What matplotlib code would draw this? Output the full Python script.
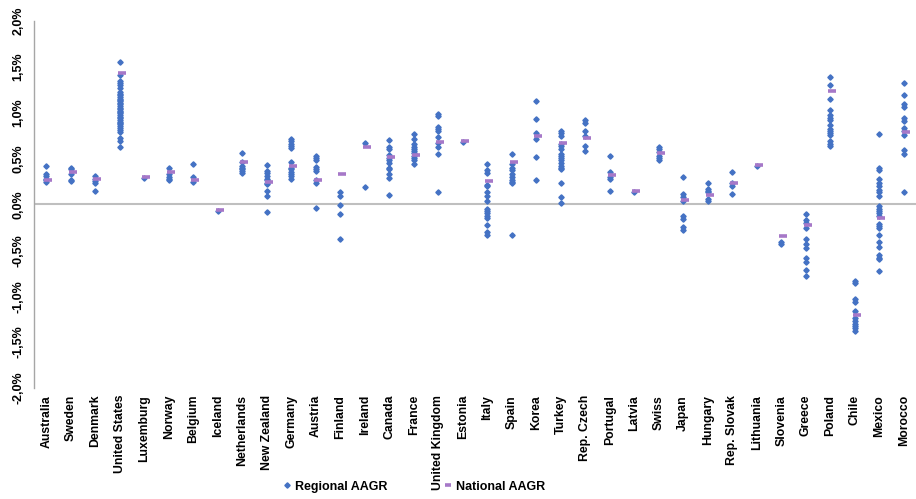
import matplotlib
matplotlib.use("Agg")
import matplotlib.pyplot as plt
from matplotlib.lines import Line2D
from matplotlib import transforms

plt.rcParams['font.family'] = ['Liberation Sans', 'DejaVu Sans']

countries = ["Australia", "Sweden", "Denmark", "United States", "Luxemburg", "Norway",
             "Belgium", "Iceland", "Netherlands", "New Zealand", "Germany", "Austria",
             "Finland", "Ireland", "Canada", "France", "United Kingdom", "Estonia",
             "Italy", "Spain", "Korea", "Turkey", "Rep. Czech", "Portugal", "Latvia",
             "Swiss", "Japan", "Hungary", "Rep. Slovak", "Lithuania", "Slovenia",
             "Greece", "Poland", "Chile", "Mexico", "Morocco"]

# Regional AAGR (%) per country
reg_australia = [0.42, 0.33, 0.31, 0.28, 0.26, 0.24]
reg_sweden = [0.40, 0.38, 0.33, 0.27, 0.25]
reg_denmark = [0.31, 0.28, 0.25, 0.23, 0.15]
reg_us = [1.55, 1.41, 1.34, 1.32, 1.30, 1.27, 1.22, 1.20, 1.19, 1.17, 1.15, 1.14,
          1.12, 1.10, 1.09, 1.07, 1.05, 1.04, 1.02, 1.00, 0.99, 0.97, 0.95, 0.94,
          0.92, 0.90, 0.89, 0.87, 0.85, 0.83, 0.81, 0.79, 0.72, 0.69, 0.62]
reg_luxemburg = [0.29]
reg_norway = [0.40, 0.33, 0.30, 0.28, 0.26]
reg_belgium = [0.44, 0.30, 0.24]
reg_iceland = [-0.07]
reg_netherlands = [0.56, 0.46, 0.42, 0.40, 0.38, 0.36, 0.34]
reg_newzealand = [0.43, 0.36, 0.34, 0.31, 0.28, 0.26, 0.23, 0.22, 0.15, 0.09, -0.08]
reg_germany = [0.71, 0.69, 0.66, 0.64, 0.61, 0.46, 0.40, 0.38, 0.35, 0.33, 0.31, 0.28]
reg_austria = [0.53, 0.50, 0.48, 0.41, 0.38, 0.36, 0.26, 0.23, -0.04]
reg_finland = [0.13, 0.09, -0.01, -0.11, -0.38]
reg_ireland = [0.67, 0.19]
reg_canada = [0.70, 0.62, 0.60, 0.54, 0.50, 0.48, 0.45, 0.40, 0.38, 0.33, 0.29, 0.10]
reg_france = [0.76, 0.71, 0.66, 0.62, 0.60, 0.58, 0.56, 0.53, 0.50, 0.48, 0.44]
reg_uk = [0.98, 0.96, 0.84, 0.82, 0.80, 0.73, 0.67, 0.62, 0.55, 0.13]
reg_estonia = [0.68]
reg_italy = [0.44, 0.37, 0.34, 0.21, 0.20, 0.13, 0.09, 0.04, -0.05, -0.07, -0.10,
             -0.13, -0.15, -0.22, -0.30, -0.33]
reg_spain = [0.55, 0.44, 0.39, 0.37, 0.33, 0.30, 0.27, 0.24, 0.23, -0.33]
reg_korea = [1.13, 0.93, 0.78, 0.71, 0.52, 0.27]
reg_turkey = [0.80, 0.78, 0.74, 0.66, 0.63, 0.60, 0.55, 0.53, 0.50, 0.48, 0.45,
              0.42, 0.40, 0.38, 0.23, 0.08, 0.01]
reg_czech = [0.92, 0.88, 0.80, 0.74, 0.64, 0.58]
reg_portugal = [0.53, 0.35, 0.30, 0.28, 0.15]
reg_latvia = [0.13]
reg_swiss = [0.62, 0.60, 0.57, 0.53, 0.50, 0.48]
reg_japan = [0.30, 0.11, 0.08, 0.04, -0.13, -0.16, -0.25, -0.28]
reg_hungary = [0.23, 0.17, 0.15, 0.13, 0.06, 0.04]
reg_slovak = [0.35, 0.23, 0.20, 0.11]
reg_lithuania = [0.42]
reg_slovenia = [-0.41, -0.43]
reg_greece = [-0.11, -0.17, -0.20, -0.26, -0.38, -0.43, -0.48, -0.59, -0.63, -0.72, -0.78]
reg_poland = [1.39, 1.30, 1.15, 1.03, 0.97, 0.94, 0.92, 0.86, 0.82, 0.80, 0.78,
              0.75, 0.69, 0.66, 0.64]
reg_chile = [-0.83, -0.86, -1.03, -1.06, -1.16, -1.24, -1.27, -1.30, -1.32, -1.35, -1.38]
reg_mexico = [0.77, 0.40, 0.37, 0.28, 0.23, 0.20, 0.16, 0.13, 0.09, -0.02, -0.05,
              -0.07, -0.10, -0.13, -0.21, -0.24, -0.26, -0.33, -0.41, -0.46, -0.55,
              -0.58, -0.60, -0.73]
reg_morocco = [1.32, 1.19, 1.09, 1.06, 0.94, 0.91, 0.83, 0.80, 0.75, 0.59, 0.55, 0.13]

regional = [reg_australia, reg_sweden, reg_denmark, reg_us, reg_luxemburg, reg_norway,
            reg_belgium, reg_iceland, reg_netherlands, reg_newzealand, reg_germany,
            reg_austria, reg_finland, reg_ireland, reg_canada, reg_france, reg_uk,
            reg_estonia, reg_italy, reg_spain, reg_korea, reg_turkey, reg_czech,
            reg_portugal, reg_latvia, reg_swiss, reg_japan, reg_hungary, reg_slovak,
            reg_lithuania, reg_slovenia, reg_greece, reg_poland, reg_chile,
            reg_mexico, reg_morocco]

# National AAGR (%)
national = [0.26, 0.35, 0.28, 1.43, 0.30, 0.35, 0.27, -0.06, 0.46, 0.24, 0.42, 0.27,
            0.33, 0.62, 0.52, 0.54, 0.68, 0.69, 0.25, 0.46, 0.74, 0.67, 0.72, 0.32,
            0.14, 0.56, 0.05, 0.10, 0.23, 0.43, -0.35, -0.22, 1.23, -1.21, -0.15, 0.79]

y_ticks = [-2.0, -1.5, -1.0, -0.5, 0.0, 0.5, 1.0, 1.5, 2.0]
y_labels = ["-2,0%", "-1,5%", "-1,0%", "-0,5%", "0,0%", "0,5%", "1,0%", "1,5%", "2,0%"]

reg_color = "#4472C4"
nat_color = "#A678C8"

fig = plt.figure(figsize=(9.16, 4.99), dpi=100)
ax = fig.add_axes([34 / 916, 1 - 388 / 499, 1 - 34 / 916, (388 - 20.6) / 499])

for i, vals in enumerate(regional):
    ax.plot([i] * len(vals), vals, linestyle="none", marker="D", markersize=2.7,
            color=reg_color, zorder=3)

nat_tr = transforms.offset_copy(ax.transData, fig=fig, x=2, y=0, units="dots")
ax.plot(range(len(countries)), national, linestyle="none", marker="_", markersize=6,
        markeredgewidth=2.6, color=nat_color, transform=nat_tr, zorder=4)

ax.axhline(0, color="#BFBFBF", linewidth=1.5, zorder=1)

ax.set_xlim(-0.5, len(countries) - 0.5)
ax.set_ylim(-2.0, 2.0)
ax.set_yticks(y_ticks)
ax.set_yticklabels(y_labels, rotation=90, va="center", fontsize=9, fontweight="bold")
ax.set_xticks(range(len(countries)))
ax.set_xticklabels(countries, rotation=90, fontsize=8.8, fontweight="bold")
ax.tick_params(axis="y", length=0, pad=7)
ax.tick_params(axis="x", length=0, pad=5)

for s in ["top", "right", "bottom"]:
    ax.spines[s].set_visible(False)
ax.spines["left"].set_color("#A6A6A6")
ax.spines["left"].set_linewidth(1.0)

handles = [
    Line2D([], [], linestyle="none", marker="D", markersize=2.7, color=reg_color),
    Line2D([], [], linestyle="none", marker="_", markersize=5, markeredgewidth=2.6,
           color=nat_color),
]
fig.legend(handles, ["Regional AAGR", "National AAGR"], loc="center",
           bbox_to_anchor=(0.452, 0.025), ncol=2, frameon=False,
           prop={"weight": "bold", "size": 9}, handlelength=0.6, handletextpad=0.3,
           columnspacing=4.6)

fig.savefig("out.png", dpi=100)
